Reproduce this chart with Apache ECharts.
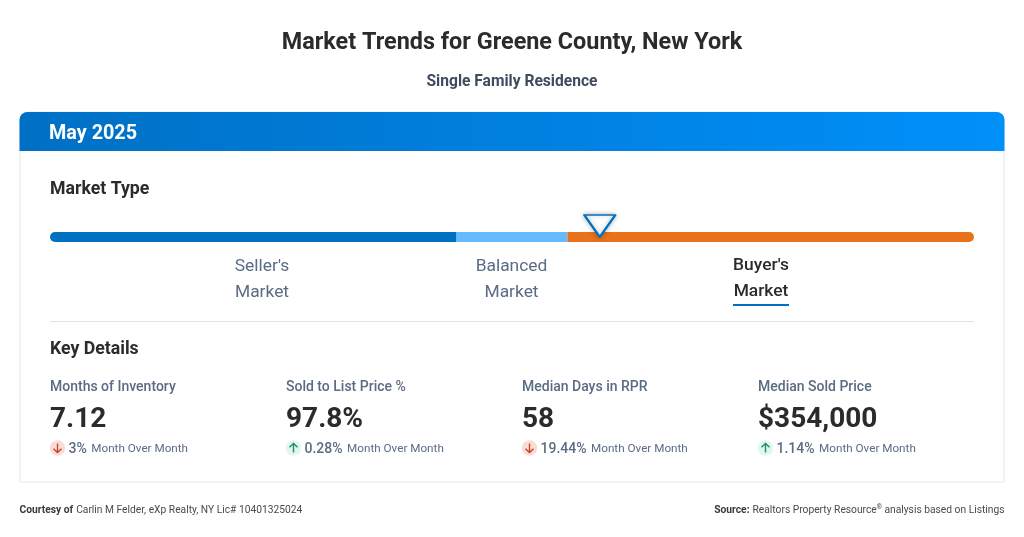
<!DOCTYPE html>
<html>
<head>
<meta charset="utf-8">
<style>
html, body { margin: 0; padding: 0; background: #fff; }
#chart { width: 1024px; height: 537px; }
</style>
<script src="https://cdn.jsdelivr.net/npm/echarts@6/dist/echarts.min.js"></script>
</head>
<body>
<div id="chart"></div>
<script>
var chartTitle = 'Market Trends for Greene County, New York';
var chartSubtitle = 'Single Family Residence';
var periodLabel = 'May 2025';

// market type scale, share of the bar
var segmentNames = ["Seller's", 'Balanced', "Buyer's"];
var segmentValues = [44, 12, 44];
var segmentColors = ['#0070c0', '#66bbff', '#e8711a'];
var markerValue = 59.5;
var marketLabelX = [262, 511.5, 761];
var activeSegment = 2;

// key details
var kpiNames = ['Months of Inventory', 'Sold to List Price %', 'Median Days in RPR', 'Median Sold Price'];
var kpiValues = ['7.12', '97.8%', '58', '$354,000'];
var kpiChanges = ['3%', '0.28%', '19.44%', '1.14%'];
var kpiDirections = ['down', 'up', 'down', 'up'];
var kpiX = [50, 286, 522, 758];

var font = 'Roboto';
var grey = '#5b6b84';
var dark = '#2b2b2b';

function label(x, y, text, size, weight, color, align) {
    return {
        type: 'text', x: x, y: y, silent: true,
        style: {
            text: text, fontFamily: font, fontSize: size, fontWeight: weight,
            fill: color, align: align || 'left', verticalAlign: 'middle'
        }
    };
}

function arrowBadge(x, y, dir) {
    var s = dir === 'up' ? -1 : 1;
    var color = dir === 'up' ? '#1f8f63' : '#c8452b';
    return [{
        type: 'circle', silent: true,
        shape: { cx: x, cy: y, r: 7.7 },
        style: { fill: dir === 'up' ? '#dff7ee' : '#fadcd6' }
    }, {
        type: 'polyline', silent: true,
        shape: { points: [[x, y - 4.5 * s], [x, y + 4.5 * s]] },
        style: { stroke: color, lineWidth: 1.4, fill: null }
    }, {
        type: 'polyline', silent: true,
        shape: { points: [[x - 4, y + 0.7 * s], [x, y + 4.5 * s], [x + 4, y + 0.7 * s]] },
        style: { stroke: color, lineWidth: 1.4, fill: null }
    }];
}

var elements = [
    label(512, 43.5, chartTitle, 23.4, 700, dark, 'center'),
    label(512, 82, chartSubtitle, 15.6, 700, '#3f4b5e', 'center'),
    // card
    {
        type: 'rect', silent: true,
        shape: { x: 20, y: 112, width: 984, height: 370, r: [8, 8, 0, 0] },
        style: { fill: '#fff', stroke: '#e4eaf4', lineWidth: 1.2 }
    },
    {
        type: 'rect', silent: true,
        shape: { x: 19.5, y: 112, width: 985, height: 39, r: [8, 8, 0, 0] },
        style: {
            fill: new echarts.graphic.LinearGradient(0, 0, 1, 0, [
                { offset: 0, color: '#0070c4' },
                { offset: 1, color: '#0090fa' }
            ])
        }
    },
    label(49, 134, periodLabel, 19.8, 700, '#fff'),
    label(50, 189.5, 'Market Type', 17.7, 700, dark),
    label(50, 349.5, 'Key Details', 17.7, 700, dark),
    {
        type: 'line', silent: true,
        shape: { x1: 50, y1: 321.5, x2: 974, y2: 321.5 },
        style: { stroke: '#dfe3e8', lineWidth: 1 }
    },
    {
        type: 'rect', silent: true,
        shape: { x: 733, y: 304, width: 56, height: 2 },
        style: { fill: '#0070c0' }
    },
    // footer
    {
        type: 'text', x: 19.5, y: 510, silent: true,
        style: {
            verticalAlign: 'middle', fontFamily: font,
            text: '{b|Courtesy of} {n|Carlin M Felder, eXp Realty, NY Lic# 10401325024}',
            rich: {
                b: { fontFamily: font, fontSize: 10.25, fontWeight: 700, fill: '#3a3a3a' },
                n: { fontFamily: font, fontSize: 10.25, fill: '#4a4a4a' }
            }
        }
    },
    {
        type: 'text', x: 1004.5, y: 510, silent: true,
        style: {
            align: 'right', verticalAlign: 'middle', fontFamily: font,
            text: '{b|Source:} {n|Realtors Property Resource}{s|®}{n| analysis based on Listings}',
            rich: {
                b: { fontFamily: font, fontSize: 10.25, fontWeight: 700, fill: '#3a3a3a' },
                n: { fontFamily: font, fontSize: 10.25, fill: '#4a4a4a' },
                s: { fontFamily: font, fontSize: 6.5, fill: '#4a4a4a', verticalAlign: 'top' }
            }
        }
    }
];

segmentNames.forEach(function (name, i) {
    var on = i === activeSegment;
    var color = on ? dark : grey;
    var weight = on ? 500 : 400;
    var top = on ? 265.5 : 266.5;
    elements.push(label(marketLabelX[i], top, name, 17.4, weight, color, 'center'));
    elements.push(label(marketLabelX[i], top + 26, 'Market', 17.4, weight, color, 'center'));
});

kpiNames.forEach(function (name, i) {
    var x = kpiX[i];
    elements.push(label(x, 387, name, 14, 500, grey));
    elements.push(label(x, 420, kpiValues[i], 28, 700, dark));
    elements = elements.concat(arrowBadge(x + 7.5, 448, kpiDirections[i]));
    elements.push({
        type: 'text', x: x + 18.5, y: 449, silent: true,
        style: {
            verticalAlign: 'middle', fontFamily: font,
            text: '{p|' + kpiChanges[i] + '}{m|Month Over Month}',
            rich: {
                p: { fontFamily: font, fontSize: 14, fontWeight: 500, fill: grey },
                m: { fontFamily: font, fontSize: 11.7, fill: grey, padding: [0, 0, 0, 4.5] }
            }
        }
    });
});

var barSeries = segmentNames.map(function (name, i) {
    var radius = i === 0 ? [5, 0, 0, 5] : (i === segmentNames.length - 1 ? [0, 5, 5, 0] : 0);
    return {
        type: 'bar', name: name, stack: 'market', barWidth: 10, silent: true,
        data: [segmentValues[i]],
        itemStyle: { color: segmentColors[i], borderRadius: radius }
    };
});

var chart = echarts.init(document.getElementById('chart'));
chart.setOption({
    animation: false,
    backgroundColor: '#fff',
    textStyle: { fontFamily: font },
    grid: { left: 50, width: 924, top: 232, height: 10 },
    xAxis: { type: 'value', min: 0, max: 100, show: false },
    yAxis: { type: 'category', data: ['Market Type'], show: false },
    graphic: { elements: elements },
    series: barSeries.concat([{
        type: 'scatter', silent: true, z: 5,
        data: [[markerValue, 0]],
        symbol: 'path://M0 0 L32 0 L16 23 Z',
        symbolSize: [31, 22],
        symbolOffset: [0, -11],
        itemStyle: {
            color: '#fff', borderColor: '#0070c0', borderWidth: 2, borderJoin: 'round', opacity: 1,
            shadowColor: 'rgba(0,0,0,0.25)', shadowBlur: 5
        }
    }])
});
</script>
</body>
</html>
